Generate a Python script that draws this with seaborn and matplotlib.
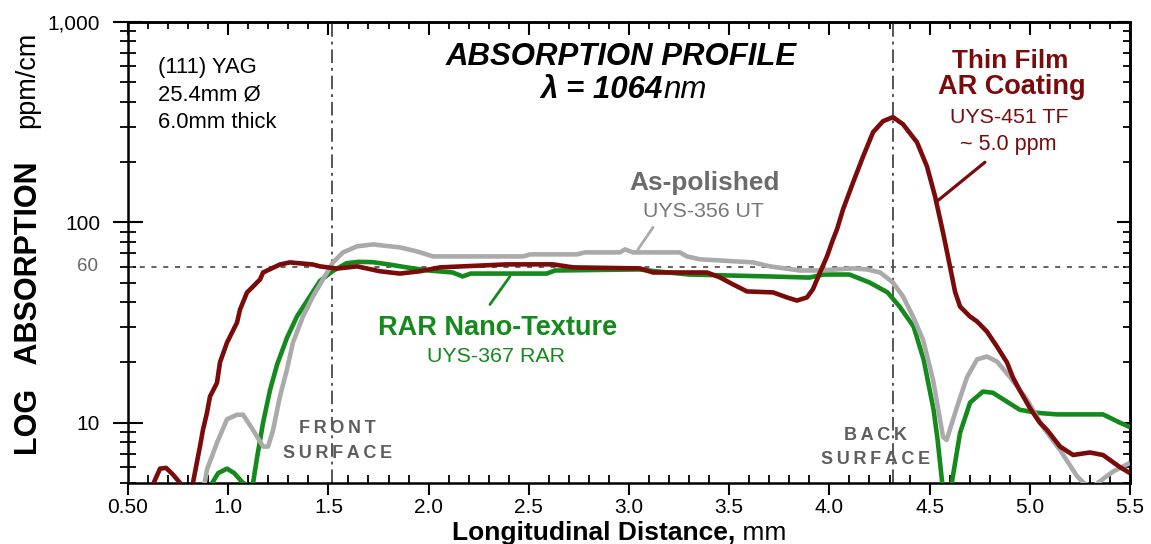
import numpy as np
import pandas as pd
import matplotlib
matplotlib.use("Agg")
import matplotlib.pyplot as plt
import matplotlib.ticker as mticker
import matplotlib.transforms as mtransforms
import seaborn as sns

# ---------------- data ----------------
# Thin Film AR Coating  (UYS-451 TF)
tf_x = [0.615, 0.628, 0.66, 0.69, 0.725, 0.76, 0.79, 0.824, 0.859, 0.874, 0.894, 0.909,
        0.944, 0.959, 0.994, 1.044, 1.059, 1.094, 1.109, 1.159, 1.174, 1.258, 1.308,
        1.423, 1.458, 1.543, 1.643, 1.757, 1.857, 1.957, 2.057, 2.391, 2.621, 2.721,
        3.055, 3.120, 3.389, 3.454, 3.519, 3.589, 3.719, 3.788, 3.838, 3.888, 3.918,
        3.953, 3.988, 4.018, 4.038, 4.068, 4.118, 4.168, 4.218, 4.268, 4.317, 4.367,
        4.437, 4.487, 4.527, 4.567, 4.602, 4.627, 4.652, 4.70, 4.737, 4.786, 4.836,
        4.886, 4.916, 4.95, 5.001, 5.05, 5.086, 5.151, 5.216, 5.30, 5.365, 5.45, 5.5]
tf_y = [3.5, 5.0, 5.9, 5.95, 5.5, 5.0, 3.5, 5.0, 7.6, 9.2, 11.2, 13.5,
        15.8, 20.0, 25.1, 31.6, 36.7, 44.7, 46.2, 51.9, 56.2, 61.6, 63.1,
        61.6, 60.3, 58.8, 60.3, 57.0, 55.5, 57.0, 59.6, 61.7, 61.7, 59.6,
        58.9, 56.2, 56.2, 53.1, 49.0, 45.2, 44.7, 42.2, 40.7, 42.2, 46.4,
        56.2, 67.6, 82.2, 92.3, 116, 158, 213, 282, 320, 335, 309,
        251, 190, 135, 89, 60, 45, 38.0, 34.0, 32.0, 28.5, 24.0,
        20.0, 16.8, 14.5, 11.8, 10.0, 9.2, 7.6, 6.9, 7.1, 6.9, 6.0, 5.6]

# As-polished (UYS-356 UT)
ap_x = [0.875, 0.894, 0.944, 0.994, 1.044, 1.074, 1.124, 1.174, 1.199, 1.224, 1.258,
        1.293, 1.323, 1.373, 1.423, 1.473, 1.523, 1.573, 1.643, 1.723, 1.807, 1.857,
        1.942, 2.022, 2.471, 2.506, 2.740, 2.780, 2.955, 2.980, 3.020, 3.254, 3.289,
        3.354, 3.619, 3.703, 3.853, 3.953, 4.118, 4.188, 4.253, 4.317, 4.367, 4.417,
        4.467, 4.517, 4.567, 4.585, 4.637, 4.687, 4.737, 4.786, 4.836, 4.901, 4.986,
        5.066, 5.151, 5.236, 5.27, 5.31, 5.35, 5.415, 5.5]
ap_y = [4.5, 5.83, 7.94, 10.4, 10.96, 10.96, 9.2, 7.6, 7.6, 9.2, 13.5,
        18.4, 25.1, 33.9, 42.7, 51.9, 63.1, 70.8, 75.9, 77.6, 75.9, 75.0,
        71.6, 67.6, 67.6, 69.2, 69.2, 70.8, 70.8, 73.3, 70.8, 70.8, 67.6,
        65.4, 63.1, 60.3, 57.5, 57.5, 58.9, 58.2, 56.2, 50.1, 42.7, 33.9,
        26.0, 16.4, 8.5, 8.2, 12.0, 16.9, 20.7, 21.4, 20.2, 16.9, 13.0,
        9.5, 7.3, 5.4, 5.0, 4.75, 5.1, 5.7, 6.3]

# RAR Nano-Texture (UYS-367 RAR)
rar_x = [0.90, 0.92, 0.95, 0.994, 1.03, 1.074, 1.094, 1.11, 1.124, 1.144, 1.174, 1.209,
         1.244, 1.293, 1.343, 1.40, 1.458, 1.52, 1.59, 1.65, 1.72, 1.80, 1.89, 2.00,
         2.12, 2.17, 2.21, 2.59, 2.63, 3.05, 3.14, 3.30, 3.70, 3.90, 3.97, 4.10, 4.20,
         4.29, 4.35, 4.42, 4.47, 4.52, 4.54, 4.562, 4.587, 4.612, 4.652, 4.702, 4.766,
         4.816, 4.95, 5.036, 5.136, 5.365, 5.45, 5.5]
rar_y = [4.0, 5.0, 5.6, 5.9, 5.6, 5.0, 4.9, 3.5, 5.0, 6.7, 10.0, 14.6,
         19.5, 26.5, 33.9, 41.5, 51.0, 57.0, 62.5, 63.5, 63.3, 61.7, 59.6, 57.5,
         56.2, 53.7, 55.5, 55.5, 57.5, 58.2, 56.9, 54.9, 53.7, 53.0, 54.9, 54.9, 50.1,
         44.7, 38.0, 30.2, 20.7, 11.6, 8.2, 5.1, 3.0, 5.1, 8.9, 12.6, 14.3,
         14.1, 11.6, 11.2, 11.0, 11.0, 10.0, 9.5]

x_ticks = [0.5, 1.0, 1.5, 2.0, 2.5, 3.0, 3.5, 4.0, 4.5, 5.0, 5.5]
x_tick_labels = ["0.50", "1.0", "1.5", "2.0", "2.5", "3.0", "3.5", "4.0", "4.5", "5.0", "5.5"]
y_ticks = [10, 100, 1000]
y_tick_labels = ["10", "100", "1,000"]
ref_level = 60
front_surface = 1.52
back_surface = 4.315

MAROON = "#7b0b0b"
GREEN = "#138a1b"
LGRAY = "#aaaaaa"
TGRAY = "#5e5e5e"

# ---------------- style ----------------
sns.set_style("ticks")
plt.rcParams['font.family'] = ['Liberation Sans', 'DejaVu Sans']
plt.rcParams['text.color'] = 'black'
plt.rcParams['axes.labelcolor'] = 'black'
plt.rcParams['xtick.color'] = 'black'
plt.rcParams['ytick.color'] = 'black'
plt.rcParams['axes.edgecolor'] = 'black'

W, H = 1151, 544
fig = plt.figure(figsize=(W / 100, H / 100), dpi=100)
ax = fig.add_axes([128 / W, 1 - 483 / H, (1130 - 128) / W, (483 - 22) / H])

ax.set_yscale("log")
ax.set_xlim(0.5, 5.5)
ax.set_ylim(5, 1000)

# reference lines
ax.axhline(ref_level, color="#555555", lw=1.3, ls=(0, (2.8, 3.7)), zorder=1)
for xv in (front_surface, back_surface):
    ax.axvline(xv, color="#555555", lw=1.4, ls=(0, (7, 2.5, 1.5, 2.5)), zorder=1)

# curves
common = dict(ax=ax, sort=False, estimator=None, lw=3.3, legend=False)
sns.lineplot(x=rar_x, y=rar_y, color=GREEN, zorder=3, **common)
sns.lineplot(x=ap_x, y=ap_y, color=LGRAY, zorder=4, **common)
sns.lineplot(x=tf_x, y=tf_y, color=MAROON, zorder=5, **common)
for ln in ax.get_lines():
    ln.set_solid_joinstyle("round")
    ln.set_solid_capstyle("butt")
ax.set_xlabel("")
ax.set_ylabel("")

# leader lines
ax.plot([3.120, 3.045], [94.4, 73.3], color=LGRAY, lw=2, zorder=4)
ax.plot([2.306, 2.406], [38.9, 53.7], color=GREEN, lw=2, zorder=4)
ax.plot([4.776, 4.537], [199.5, 127.4], color=MAROON, lw=2.3, zorder=5)

# ticks
ax.set_xticks(x_ticks)
ax.set_xticklabels(x_tick_labels)
ax.xaxis.set_minor_locator(mticker.MultipleLocator(0.1))
ax.set_yticks(y_ticks)
ax.set_yticklabels(y_tick_labels)
ax.yaxis.set_minor_locator(mticker.LogLocator(base=10, subs=np.arange(2, 10)))
ax.yaxis.set_minor_formatter(mticker.NullFormatter())

ax.tick_params(axis="x", which="major", direction="out", length=8.6, width=1.5,
               pad=2, labelsize=15, top=False, color="black", labelcolor="black")
ax.tick_params(axis="x", which="minor", direction="in", length=5.5, width=1.3, top=False)
ax.tick_params(axis="y", which="major", direction="inout", length=21, width=1.5,
               pad=9.5, labelsize=15, right=False, labelcolor="black")
ax.tick_params(axis="y", which="minor", direction="inout", length=12, width=1.3, right=False)

secx = ax.secondary_xaxis("top")
secx.set_xticks(x_ticks)
secx.xaxis.set_minor_locator(mticker.MultipleLocator(0.1))
secx.tick_params(which="major", direction="in", length=9.6, width=1.5, labeltop=False)
secx.tick_params(which="minor", direction="in", length=5.0, width=1.3)

secy = ax.secondary_yaxis("right")
secy.set_yticks(y_ticks)
secy.yaxis.set_minor_locator(mticker.LogLocator(base=10, subs=np.arange(2, 10)))
secy.yaxis.set_minor_formatter(mticker.NullFormatter())
secy.tick_params(which="major", direction="in", length=9.6, width=1.5, labelright=False)
secy.tick_params(which="minor", direction="in", length=5.0, width=1.3)

for a in (ax, secx, secy):
    for sp in a.spines.values():
        sp.set_linewidth(1.8)
        sp.set_color("black")

# "60" label
blend = mtransforms.blended_transform_factory(ax.transAxes, ax.transData)
ax.text(-0.030, ref_level, "60", transform=blend, ha="right", va="center",
        fontsize=13.5, color="#666666")

# axis labels
fig.text(37 / W, 1 - 308 / H, "LOG   ABSORPTION", rotation=90, rotation_mode="anchor",
         ha="center", va="baseline", fontsize=22, fontweight="bold", color="black")
fig.text(34 / W, 1 - 80 / H, "ppm/cm", rotation=90, rotation_mode="anchor",
         ha="center", va="baseline", fontsize=19.5, color="black")

t1 = fig.text(452 / W, 1 - 540 / H, "Longitudinal Distance,", ha="left", va="baseline",
              fontsize=19, fontweight="bold", color="black")
ax.annotate(" mm", xy=(1, 0), xycoords=t1, ha="left", va="bottom", fontsize=19,
            color="black")

# title
T = ax.transAxes
ax.text(0.492, 0.907, "ABSORPTION PROFILE", transform=T, ha="center", va="baseline",
        fontsize=22.4, fontweight="bold", fontstyle="italic", color="black")
tl = ax.text(0.534, 0.835, "\u03bb = 1064", transform=T, ha="right", va="baseline",
             fontsize=22.5, fontweight="bold", fontstyle="italic", color="black")
ax.annotate("nm", xy=(1, 0), xycoords=tl, ha="left", va="bottom",
            fontsize=22.5, fontstyle="italic", color="black")

# sample note
for i, s in enumerate(["(111) YAG", "25.4mm \u00d8", "6.0mm thick"]):
    ax.text(0.030, (483 - (73 + 27.5 * i)) / 461, s, transform=T, ha="left",
            va="baseline", fontsize=15.8, color="black")

# series labels
ax.text(0.575, 0.636, "As-polished", transform=T, ha="center", va="baseline",
        fontsize=18.9, fontweight="bold", color="#6b6b6b")
ax.text(0.574, 0.577, "UYS-356 UT", transform=T, ha="center", va="baseline",
        fontsize=15.3, color="#777777")

ax.text(0.369, 0.321, "RAR Nano-Texture", transform=T, ha="center", va="baseline",
        fontsize=19.5, fontweight="bold", color=GREEN)
ax.text(0.367, 0.262, "UYS-367 RAR", transform=T, ha="center", va="baseline",
        fontsize=15.4, color=GREEN)

ax.text(0.880, 0.900, "Thin Film", transform=T, ha="center", va="baseline",
        fontsize=18.8, fontweight="bold", color=MAROON)
ax.text(0.882, 0.844, "AR Coating", transform=T, ha="center", va="baseline",
        fontsize=19.5, fontweight="bold", color=MAROON)
ax.text(0.879, 0.781, "UYS-451 TF", transform=T, ha="center", va="baseline",
        fontsize=15.4, color=MAROON)
ax.text(0.878, 0.722, "~ 5.0 ppm", transform=T, ha="center", va="baseline",
        fontsize=15.5, color=MAROON)

# surface labels
sp_ = "\u2009"
ax.text(0.209, 0.108, sp_.join("FRONT"), transform=T, ha="center", va="baseline",
        fontsize=13, fontweight="bold", color=TGRAY)
ax.text(0.209, 0.054, sp_.join("SURFACE"), transform=T, ha="center", va="baseline",
        fontsize=13, fontweight="bold", color=TGRAY)
ax.text(0.746, 0.093, sp_.join("BACK"), transform=T, ha="center", va="baseline",
        fontsize=13, fontweight="bold", color=TGRAY)
ax.text(0.746, 0.041, sp_.join("SURFACE"), transform=T, ha="center", va="baseline",
        fontsize=13, fontweight="bold", color=TGRAY)

fig.savefig("out.png", dpi=100)
